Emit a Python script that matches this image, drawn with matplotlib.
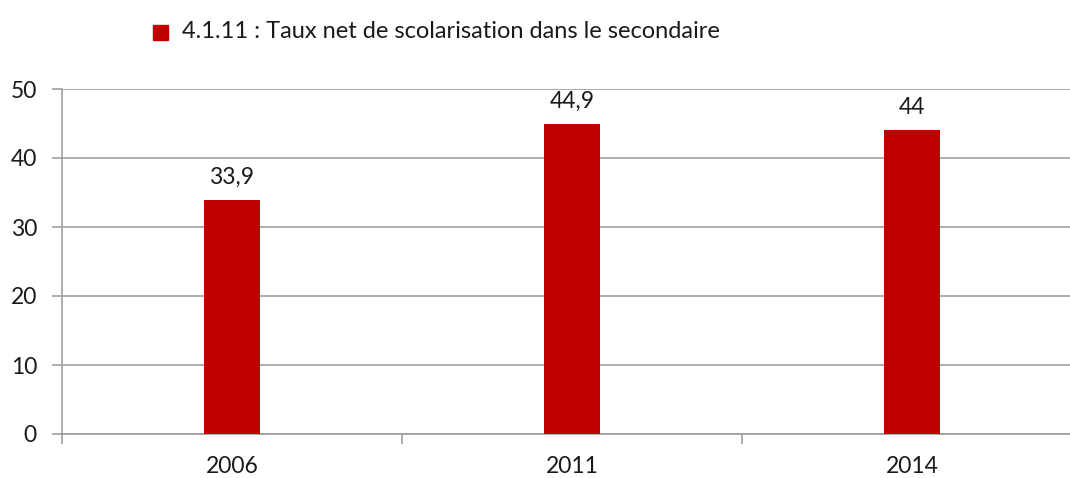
import matplotlib.pyplot as plt
import numpy as np

years = ['2006', '2011', '2014']
values = [33.9, 44.9, 44.0]
labels = ['33,9', '44,9', '44']
series_name = '4.1.11 : Taux net de scolarisation dans le secondaire'

plt.rcParams['font.family'] = ['Lato', 'DejaVu Sans']
FS = 16.5
TXT = '#1a1a1a'

fig = plt.figure(figsize=(10.7, 4.78), dpi=100)
# plot area runs a bit past the right edge, like the original
ax = fig.add_axes([62 / 1070, 1 - 434 / 478, 1020 / 1070, (434 - 89) / 478])

x = np.arange(len(years))
ax.bar(x, values, width=0.165, color='#C00000', zorder=3)
for xi, v, lab in zip(x, values, labels):
    ax.annotate(lab, (xi, v), xytext=(0, 12), textcoords='offset points',
                ha='center', va='baseline', fontsize=FS, color=TXT)

ax.set_xlim(-0.5, len(years) - 0.5)
ax.set_ylim(0, 50)
ax.set_yticks(range(0, 51, 10))
ax.set_xticks(x)
ax.set_xticklabels(years)
ax.set_xticks(np.arange(len(years) + 1) - 0.5, minor=True)
ax.tick_params(axis='x', which='major', length=0, pad=16, labelsize=FS, labelcolor=TXT)
ax.tick_params(axis='x', which='minor', length=7, width=1.2, color='#A0A0A0', direction='out')
ax.tick_params(axis='y', length=7, width=1.2, color='#A0A0A0', pad=11, labelsize=FS, labelcolor=TXT)

ax.grid(axis='y', color='#A6A6A6', lw=1.3, zorder=0)
for s in ['top', 'right']:
    ax.spines[s].set_visible(False)
ax.spines['left'].set_color('#A0A0A0')
ax.spines['left'].set_linewidth(1.2)
ax.spines['bottom'].set_color('#A0A0A0')
ax.spines['bottom'].set_linewidth(1.3)

# legend at top
fig.patches.append(plt.Rectangle((153 / 1070, 1 - 40 / 478), 15 / 1070, 15 / 478,
                                 transform=fig.transFigure, color='#C00000'))
fig.text(182 / 1070, 1 - 32 / 478, series_name, fontsize=FS + 0.5, va='center', ha='left',
         color=TXT)

fig.savefig('out.png', dpi=100)
